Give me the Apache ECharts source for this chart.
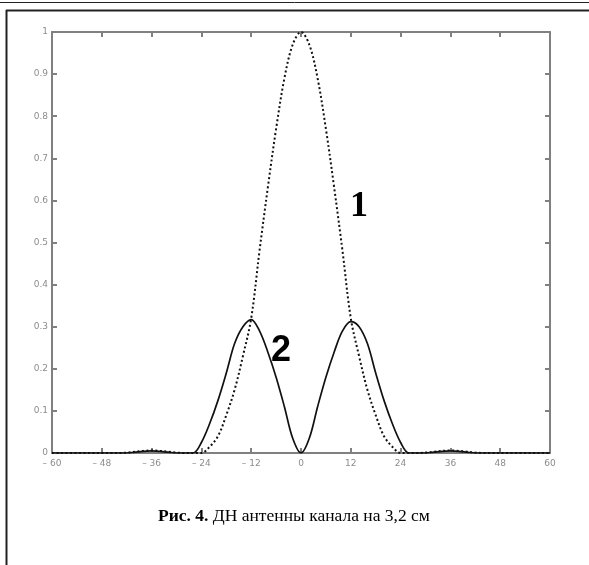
<!DOCTYPE html>
<html>
<head>
<meta charset="utf-8">
<title>ДН антенны</title>
<script src="https://cdn.jsdelivr.net/npm/echarts@6/dist/echarts.min.js"></script>
<style>
    html,body{margin:0;padding:0;background:#fff;}
    #chart{width:589px;height:565px;}
</style>
</head>
<body>
<div id="chart"></div>
<script>
// углы, градусы
var angles = [-60,-58,-56,-54,-52,-50,-48,-46,-44,-42,-40,-38,-36,-34,-32,-30,-28,-26,-24,-22,-20,-18,-16,-14,-12,-10,-8,-6,-4,-2,
    0,2,4,6,8,10,12,14,16,18,20,22,24,26,28,30,32,34,36,38,40,42,44,46,48,50,52,54,56,58,60];
// кривая 1 (пунктир)
var curve1 = [0,0,0,0,0,0,0,0,0,0.001,0.003,0.005,0.006,0.005,0.003,0.001,0,0,0,0.015,0.04,0.09,0.15,0.23,0.32,0.48,0.63,0.77,0.89,0.97,
    1.0,0.97,0.89,0.77,0.63,0.48,0.32,0.23,0.15,0.09,0.04,0.015,0,0,0,0.001,0.003,0.005,0.006,0.005,0.003,0.001,0,0,0,0,0,0,0,0,0];
// кривая 2 (сплошная)
var curve2 = [0,0,0,0,0,0,0,0,0,0,0.002,0.004,0.005,0.004,0.002,0,0,0,0.025,0.07,0.125,0.19,0.26,0.30,0.317,0.29,0.24,0.18,0.11,0.035,
    0,0.035,0.11,0.18,0.24,0.29,0.312,0.30,0.26,0.19,0.125,0.07,0.025,0,0,0,0.002,0.004,0.005,0.004,0.002,0,0,0,0,0,0,0,0,0,0];
var xTicks = [-60,-48,-36,-24,-12,0,12,24,36,48,60];
var yTicks = [0,0.1,0.2,0.3,0.4,0.5,0.6,0.7,0.8,0.9,1];

var chart = echarts.init(document.getElementById('chart'));
var pairs = function(ys){ return angles.map(function(a,i){ return [a, ys[i]]; }); };
var axisGray = '#808080';
var labGray = '#8c8c8c';

var option = {
    animation: false,
    backgroundColor: '#fff',
    grid: {left: 52, right: 39, top: 32, bottom: 112},
    xAxis: [{
        type: 'value', min: xTicks[0], max: xTicks[xTicks.length-1], interval: 12,
        axisLine: {onZero: false, lineStyle: {color: axisGray, width: 2}},
        axisTick: {inside: true, length: 5, lineStyle: {color: axisGray, width: 2}},
        splitLine: {show: false},
        axisLabel: {
            color: labGray, fontSize: 9, fontFamily: 'DejaVu Sans', margin: 6,
            formatter: function(v){ return v < 0 ? '\u2013 ' + (-v) : String(v); }
        }
    },{
        type: 'value', position: 'top', min: -60, max: 60, interval: 12,
        axisLine: {onZero: false, lineStyle: {color: axisGray, width: 2}},
        axisTick: {inside: true, length: 5, lineStyle: {color: axisGray, width: 2}},
        axisLabel: {show: false}, splitLine: {show: false}
    }],
    yAxis: [{
        type: 'value', min: yTicks[0], max: yTicks[yTicks.length-1], interval: 0.1,
        axisLine: {show: true, onZero: false, lineStyle: {color: axisGray, width: 2}},
        axisTick: {show: true, inside: true, length: 5, lineStyle: {color: axisGray, width: 2}},
        splitLine: {show: false},
        axisLabel: {
            color: labGray, fontSize: 9, fontFamily: 'DejaVu Sans', margin: 4,
            formatter: function(v){ return String(Math.round(v*10)/10); }
        }
    },{
        type: 'value', position: 'right', min: 0, max: 1, interval: 0.1,
        axisLine: {show: true, onZero: false, lineStyle: {color: axisGray, width: 2}},
        axisTick: {show: true, inside: true, length: 5, lineStyle: {color: axisGray, width: 2}},
        axisLabel: {show: false}, splitLine: {show: false}
    }],
    series: [{
        name: '1', type: 'line', data: pairs(curve1), smooth: 0.35, symbol: 'none',
        lineStyle: {color: '#111', width: 2, type: [2, 2.5]}
    },{
        name: '2', type: 'line', data: pairs(curve2), smooth: 0.35, symbol: 'none',
        lineStyle: {color: '#111', width: 1.7}
    }],
    graphic: [
        // рамка
        {type: 'line', shape: {x1: 0, y1: 2.5, x2: 589, y2: 2.5}, style: {stroke: '#222', lineWidth: 1}},
        {type: 'line', shape: {x1: 6, y1: 10.5, x2: 589, y2: 10.5}, style: {stroke: '#222', lineWidth: 2}},
        {type: 'line', shape: {x1: 6.5, y1: 10, x2: 6.5, y2: 565}, style: {stroke: '#222', lineWidth: 2}},
        // подписи кривых
        {type: 'text', left: 350, top: 189, style: {text: '1', fill: '#000', font: 'bold 36px "Liberation Serif"'}},
        {type: 'text', left: 271, top: 333, style: {text: '2', fill: '#000', font: 'bold 36px "Liberation Sans"'}},
        // подпись рисунка
        {type: 'text', left: 158, top: 507, style: {
            text: '{b|Рис. 4.} ДН антенны канала на 3,2 см',
            fill: '#000', font: '17.5px "Liberation Serif"',
            rich: {b: {fontWeight: 'bold', fontSize: 17.5, fontFamily: 'Liberation Serif'}}
        }}
    ]
};
chart.setOption(option);
</script>
</body>
</html>
